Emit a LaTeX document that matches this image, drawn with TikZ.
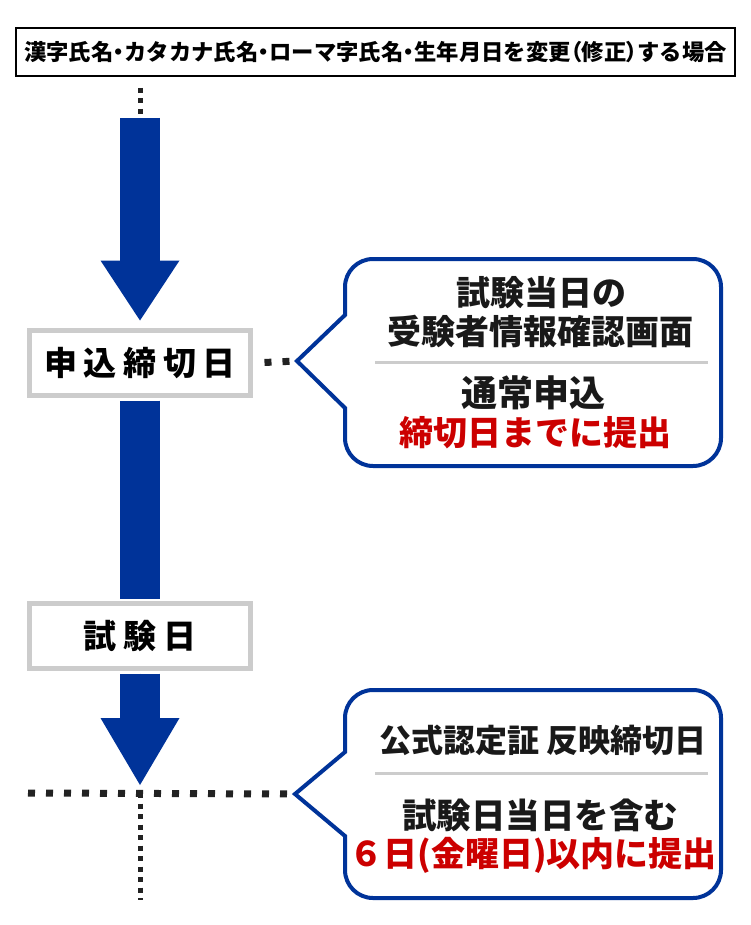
\documentclass[tikz,border=0pt]{standalone}
\usepackage{fontspec}
\setmainfont{Noto Sans CJK JP}
\usetikzlibrary{arrows.meta}
\definecolor{flowblue}{HTML}{003399}
\definecolor{notered}{HTML}{CC0000}
\definecolor{boxgray}{HTML}{CCCCCC}
\definecolor{dotgray}{HTML}{222222}
\newcommand{\pal}[1]{{\addfontfeatures{RawFeature=+palt}#1}}
\tikzset{titlebox/.style={rectangle,draw=black,line width=2.5pt,minimum width=719pt,minimum height=48pt,font=\bfseries\fontsize{22.3}{26}\selectfont}}
\tikzset{datebox/.style={rectangle,draw=boxgray,line width=5pt,fill=white,minimum width=221pt,minimum height=65pt,font=\bfseries\fontsize{33}{38}\selectfont\addfontfeatures{LetterSpace=20}}}
\tikzset{flowarrow/.style={draw=flowblue,line width=40pt,-{Triangle[length=#1,width=79pt,line width=0pt]},fill=flowblue}}
\tikzset{flowshaft/.style={draw=flowblue,line width=40pt}}
\tikzset{bigdots/.style={draw=dotgray,line width=7pt,dash pattern=on 7pt off 11pt}}
\tikzset{smalldots/.style={draw=dotgray,line width=5pt,dash pattern=on 5pt off 5.5pt}}
\tikzset{callout/.style={draw=flowblue,line width=4pt,fill=white,line join=miter}}
\tikzset{sepline/.style={draw=boxgray,line width=3pt}}
\tikzset{note/.style={font=\bfseries\fontsize{#1}{#1}\selectfont,text=black!90,inner sep=0pt}}

\begin{document}
\begin{tikzpicture}[x=1pt,y=-1pt]
  \useasboundingbox[fill=white] (0,0) rectangle (750,925);
  \node [titlebox] (title) at (375.5,52) {漢字氏名\pal{・}カタカナ氏名\pal{・}ローマ字氏名\pal{・}生年月日を変更\pal{（}修正\pal{）}する場合};
  \node [datebox] (deadline) at (140,363) {申込締切日};
  \node [datebox] (exam) at (140,636) {試験日};
  \coordinate (topdot) at (140,88);
  \coordinate (startA) at (140,118);
  \coordinate (endB) at (140,785);
  \coordinate (lineL) at (28,793);
  \coordinate (bottomdot) at (140,900);
  % arrows down the time line
  \draw [smalldots] (topdot) -- (startA);
  \draw [flowarrow=60pt,shorten >=7.5pt] (startA) -- (deadline.north);
  \draw [flowshaft,shorten <=2.5pt,shorten >=2.5pt] (deadline.south) -- (exam.north);
  \draw [flowarrow=67pt,shorten <=2.5pt] (exam.south) -- (endB);
  % first callout
  \coordinate (tipA) at (297,361);
  \draw [callout] (345,315) [rounded corners=28pt] -- (345,259) -- (721,259) -- (721,466) -- (345,466) [sharp corners] -- (345,408) -- (tipA) -- cycle;
  \draw [bigdots,shorten <=11.5pt] (deadline.east) -- (tipA);
  \node [note=34] (noteAa) at (541,293) {試験当日の};
  \node [note=34] (noteAb) at (540,332) {受験者情報確認画面};
  \coordinate (sepAl) at (375,362);
  \coordinate (sepAr) at (708,362);
  \draw [sepline] (sepAl) -- (sepAr);
  \node [note=36] (noteAc) at (533,393) {通常申込};
  \node [note=34,text=notered] (noteAd) at (535,433) {締切日までに提出};
  % second callout
  \coordinate (tipB) at (295,794);
  \draw [callout] (345,752) [rounded corners=28pt] -- (345,690) -- (721,690) -- (721,898) -- (345,898) [sharp corners] -- (345,836) -- (tipB) -- cycle;
  \draw [bigdots] (lineL) -- (tipB);
  \draw [smalldots,shorten <=8pt] (endB) -- (bottomdot);
  \node [note=32] (noteBa) at (543,740) {公式認定証 反映締切日};
  \coordinate (sepBl) at (375,773);
  \coordinate (sepBr) at (708,773);
  \draw [sepline] (sepBl) -- (sepBr);
  \node [note=34.5] (noteBb) at (540,815) {試験日当日を含む};
  \node [note=34,text=notered] (noteBc) at (533,855) {６日(金曜日)以内に提出};
\end{tikzpicture}
\end{document}
